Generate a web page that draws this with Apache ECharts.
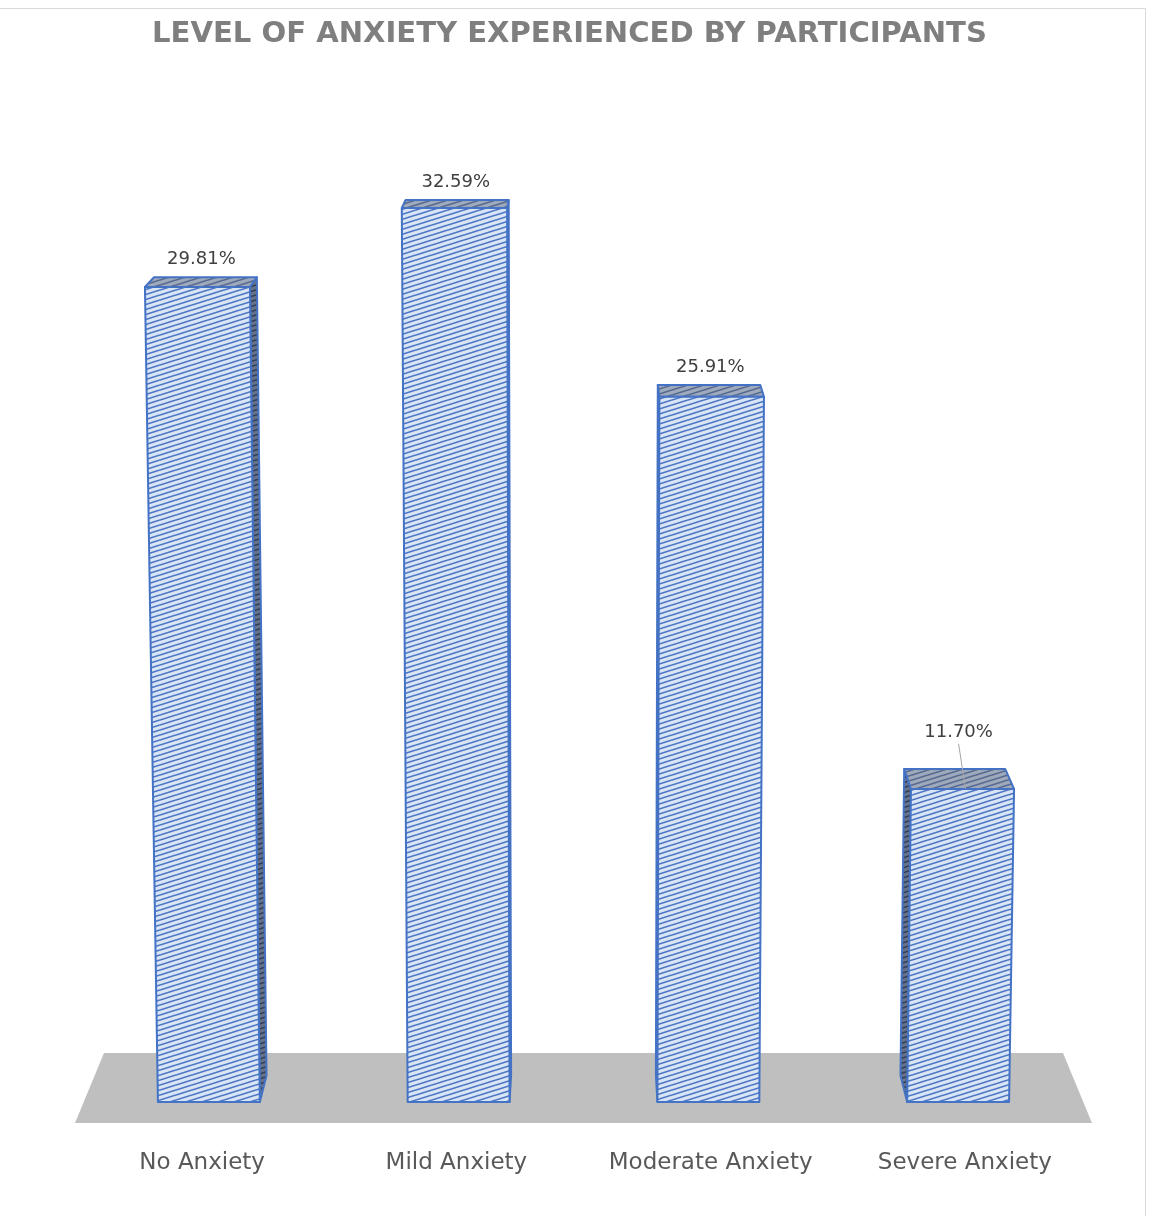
<!DOCTYPE html>
<html>
<head>
<meta charset="utf-8">
<script src="https://cdn.jsdelivr.net/npm/echarts@6/dist/echarts.min.js"></script>
<style>
html,body{margin:0;padding:0;background:#fff;}
#chart{width:1153px;height:1216px;}
</style>
</head>
<body>
<div id="chart"></div>
<script>
// ---- data ----
const chartTitle = 'LEVEL OF ANXIETY EXPERIENCED BY PARTICIPANTS';
const categories = ['No Anxiety', 'Mild Anxiety', 'Moderate Anxiety', 'Severe Anxiety'];
const percentValues = [29.81, 32.59, 25.91, 11.70];

// ---- view / style parameters (not data) ----
const K = 0.0207;          // depth factor toward the vanishing point
const HORIZON_OFF = -1282; // vanishing point y relative to baseline
const VERT_VP_OFF = 26700; // vertical convergence point below baseline
const WARP = 4.66e-5;      // perspective growth of heights
const BAR_FRAC = 0.408;    // front face width as fraction of band
const FRONT_SPREAD = 1.018;
const BACK_SPREAD = 0.96;

function makeHatch(bg, line, lw) {
  const W = 16, H = 5;
  const c = document.createElement('canvas');
  c.width = W; c.height = H;
  const ctx = c.getContext('2d');
  ctx.fillStyle = bg; ctx.fillRect(0, 0, W, H);
  ctx.strokeStyle = line; ctx.lineWidth = lw;
  for (let dx = -W; dx <= W; dx += W) {
    for (let dy = -H; dy <= H; dy += H) {
      ctx.beginPath(); ctx.moveTo(dx, H + dy); ctx.lineTo(W + dx, dy); ctx.stroke();
    }
  }
  return c;
}
const frontPat = { image: makeHatch('#d9e4f5', '#4a76c5', 1.6), repeat: 'repeat' };
const topPat = { image: makeHatch('#9ea9bc', '#56698f', 1.6), repeat: 'repeat' };
const sidePat = { image: makeHatch('#66728a', '#303f5b', 1.6), repeat: 'repeat' };
const EDGE = '#4472c4';

function viewInfo(api) {
  const first = api.coord([0, 0]);
  const last = api.coord([categories.length - 1, 0]);
  const band = api.size([1, 0])[0];
  return { CX: (first[0] + last[0]) / 2, y0: first[1], band: band, halfW: (last[0] - first[0] + band) / 2 };
}

function renderFloor(params, api) {
  const v = viewInfo(api);
  const pts = [
    [v.CX - v.halfW * FRONT_SPREAD, v.y0 + 21],
    [v.CX + v.halfW * FRONT_SPREAD, v.y0 + 21],
    [v.CX + v.halfW * BACK_SPREAD, v.y0 - 49],
    [v.CX - v.halfW * BACK_SPREAD, v.y0 - 49]
  ];
  return { type: 'polygon', shape: { points: pts }, style: { fill: '#bfbfbf', stroke: 'none' } };
}

function renderBar(params, api) {
  const i = api.value(0);
  const val = api.value(1);
  const v = viewInfo(api);
  const base = api.coord([i, 0]);
  const topLin = api.coord([i, val]);
  const y0 = base[1];
  let h = y0 - topLin[1];
  h = h * (1 + h * WARP);
  const yT = y0 - h;
  const hw = v.band * BAR_FRAC / 2;
  const CX = v.CX, VY = y0 + VERT_VP_OFF, YH = y0 + HORIZON_OFF;
  const lean = x => CX + (x - CX) * (VY - yT) / (VY - y0);
  const back = p => [p[0] + K * (CX - p[0]), p[1] + K * (YH - p[1])];
  const fBL = [base[0] - hw, y0], fBR = [base[0] + hw, y0];
  const fTL = [lean(base[0] - hw), yT], fTR = [lean(base[0] + hw), yT];
  const bTL = back(fTL), bTR = back(fTR), bBL = back(fBL), bBR = back(fBR);
  const side = base[0] < CX ? [fBR, fTR, bTR, bBR] : [fBL, fTL, bTL, bBL];
  const edgeStyle = { stroke: EDGE, lineWidth: 2, lineJoin: 'round' };
  const children = [
    { type: 'polygon', shape: { points: side }, style: Object.assign({ fill: sidePat }, edgeStyle) },
    { type: 'polygon', shape: { points: [fTL, fTR, bTR, bTL] }, style: Object.assign({ fill: topPat }, edgeStyle) },
    { type: 'polygon', shape: { points: [fBL, fBR, fTR, fTL] }, style: Object.assign({ fill: frontPat }, edgeStyle) }
  ];
  const lx = (fTL[0] + fTR[0] + bTL[0] + bTR[0]) / 4;
  const nudge = (i === categories.length - 1) ? 19 : 0;
  const ly = bTL[1] - 18 - nudge;
  if (nudge) {
    children.push({ type: 'line', shape: { x1: lx, y1: ly + 12, x2: (fTL[0] + fTR[0]) / 2 + 3, y2: yT }, style: { stroke: '#a6a6a6', lineWidth: 1 } });
  }
  children.push({
    type: 'text', x: lx, y: ly,
    style: { text: val.toFixed(2) + '%', fill: '#404040', font: '18px "DejaVu Sans"', align: 'center', verticalAlign: 'middle' }
  });
  children.push({
    type: 'text', x: CX + (base[0] - CX) * FRONT_SPREAD, y: y0 + 61,
    style: { text: categories[i], fill: '#595959', font: '23px "DejaVu Sans"', align: 'center', verticalAlign: 'middle' }
  });
  return { type: 'group', children: children };
}

const chart = echarts.init(document.getElementById('chart'));
chart.setOption({
  animation: false,
  backgroundColor: '#ffffff',
  title: {
    text: chartTitle, left: 147, top: 15,
    textStyle: { fontFamily: 'DejaVu Sans', fontWeight: 'bold', fontSize: 29.1, color: '#7f7f7f' }
  },
  graphic: [
    { type: 'polyline', shape: { points: [[0, 8.5], [1145.5, 8.5], [1145.5, 1216]] }, style: { stroke: '#d9d9d9', lineWidth: 1, fill: 'none' }, silent: true }
  ],
  grid: { left: 84, right: 70, top: 47, bottom: 114 },
  xAxis: { type: 'category', data: categories, show: false },
  yAxis: { type: 'value', min: 0, max: 40, show: false },
  series: [
    { type: 'custom', z: 1, renderItem: renderFloor, data: [[0, 0]], silent: true },
    { type: 'custom', z: 2, renderItem: renderBar, data: percentValues.map((v, i) => [i, v]) }
  ]
});
</script>
</body>
</html>
